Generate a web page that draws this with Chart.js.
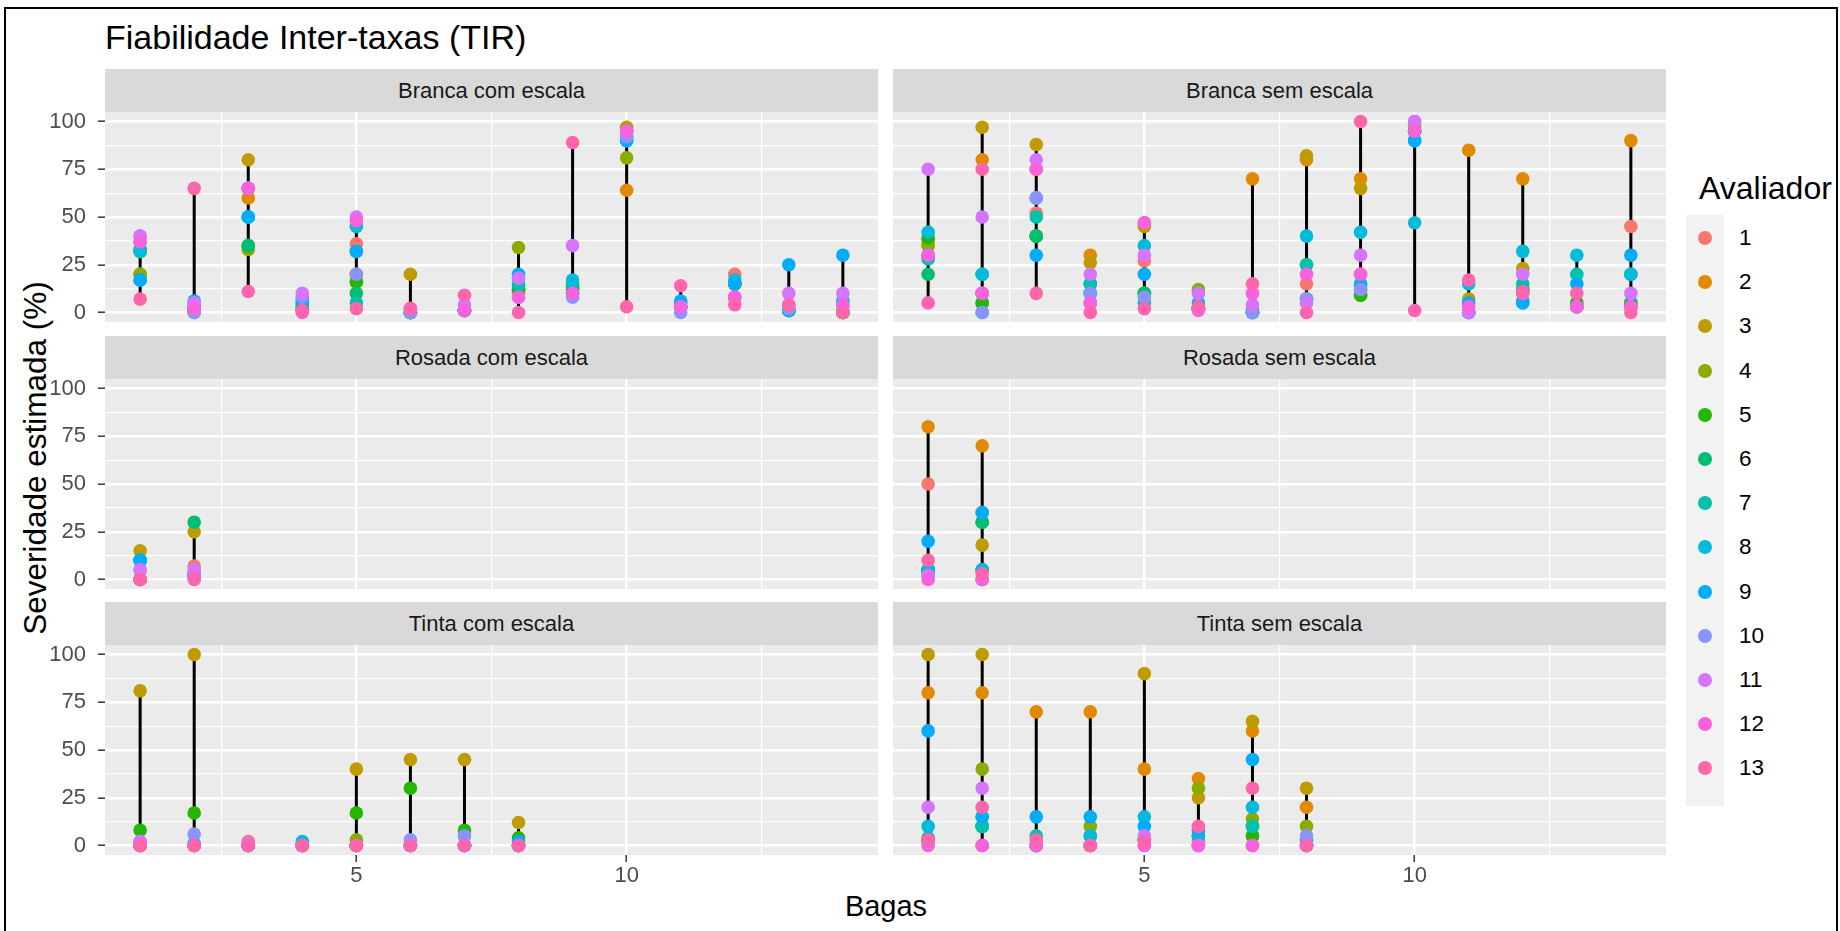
<!DOCTYPE html>
<html>
<head>
<meta charset="utf-8">
<script src="https://cdn.jsdelivr.net/npm/chart.js@4.4.1/dist/chart.umd.min.js"></script>
<style>
  body { margin: 0; background: #fff; width: 1840px; height: 931px; overflow: hidden; position: relative;
         font-family: "Liberation Sans", Arial, Helvetica, sans-serif; }
  canvas { position: absolute; }
  .strip { position: absolute; background: #D9D9D9; color: #1A1A1A; font-size: 22px; text-align: center; z-index: 2; }
  .txt { position: absolute; white-space: nowrap; color: #000; }
  #frame { position: absolute; left: 4px; top: 7px; width: 1830px; height: 940px; border: 2px solid #000; }
</style>
</head>
<body>
<div id="frame"></div>
<div class="txt" id="title" style="left:105px;top:18px;font-size:34px;">Fiabilidade Inter-taxas (TIR)</div>
<div class="txt" id="ylab" style="left:35px;top:458px;font-size:31.5px;transform:translate(-50%,-50%) rotate(-90deg);">Severidade estimada (%)</div>
<div class="txt" id="xlab" style="left:886px;top:906px;font-size:29px;transform:translate(-50%,-50%);">Bagas</div>
<div id="legend"></div>

<script>
// Bagas (x), avaliadores (series), and tick positions
const bagas = [1, 2, 3, 4, 5, 6, 7, 8, 9, 10, 11, 12, 13, 14];
const avaliadores = ['1', '2', '3', '4', '5', '6', '7', '8', '9', '10', '11', '12', '13'];
const cores = ['#F8766D', '#E18A00', '#BE9C00', '#8CAB00', '#24B700', '#00BE70', '#00C1AB',
               '#00BBDA', '#00ACFC', '#8B93FF', '#D575FE', '#F962DD', '#FF65AC'];
const xTicks = [5, 10];
const xMinor = [2.5, 7.5, 12.5];
const yTicks = [0, 25, 50, 75, 100];
const yMinor = [12.5, 37.5, 62.5, 87.5];

// one row per baga, one column per avaliador (1..13)
const brancaCom = [
  [33, 37, 20, 20, 17, 32, 32, 33, 17, 40, 40, 37, 7],
  [1, 1, 0, 2, 1, 2, 3, 5, 6, 0, 5, 2, 65],
  [65, 60, 80, 33, 35, 35, 50, 50, 50, 65, 65, 65, 11],
  [1, 2, 1, 3, 2, 4, 6, 7, 5, 8, 10, 0, 1],
  [36, 32, 20, 16, 16, 10, 5, 45, 32, 20, 50, 48, 2],
  [0, 0, 20, 0, 0, 0, 0, 0, 0, 0, 2, 2, 2],
  [1, 1, 1, 1, 1, 1, 1, 1, 1, 1, 4, 1, 9],
  [12, 10, 12, 34, 12, 14, 15, 18, 20, 8, 18, 8, 0],
  [12, 10, 12, 14, 13, 14, 15, 17, 10, 8, 35, 10, 89],
  [95, 64, 97, 81, 95, 95, 92, 90, 90, 92, 95, 95, 3],
  [3, 3, 3, 3, 3, 3, 3, 5, 6, 0, 3, 3, 14],
  [20, 15, 15, 15, 15, 15, 15, 17, 15, 8, 8, 8, 4],
  [1, 1, 1, 1, 1, 1, 1, 1, 25, 2, 10, 4, 4],
  [0, 0, 0, 0, 0, 0, 6, 6, 30, 3, 10, 4, 0]
];
const brancaSem = [
  [30, 35, 38, 35, 39, 20, 28, 42, 30, 30, 75, 30, 5],
  [10, 80, 97, 5, 5, 10, 20, 20, 0, 0, 50, 10, 75],
  [52, 75, 88, 40, 40, 40, 50, 60, 30, 60, 80, 75, 10],
  [5, 30, 26, 15, 10, 15, 15, 10, 5, 10, 20, 5, 0],
  [27, 47, 45, 10, 10, 10, 5, 35, 20, 8, 30, 47, 2],
  [2, 2, 2, 12, 2, 2, 2, 5, 2, 2, 10, 1, 3],
  [0, 70, 0, 0, 1, 0, 0, 0, 0, 0, 4, 10, 15],
  [15, 80, 82, 7, 7, 25, 25, 40, 7, 7, 5, 20, 0],
  [20, 70, 65, 9, 9, 12, 15, 42, 14, 12, 30, 20, 100],
  [95, 95, 98, 95, 95, 95, 90, 47, 90, 100, 100, 95, 1],
  [0, 85, 7, 0, 0, 0, 0, 15, 5, 0, 0, 3, 17],
  [12, 70, 23, 12, 6, 12, 15, 32, 5, 10, 20, 10, 11],
  [3, 3, 3, 3, 5, 3, 20, 30, 15, 3, 3, 3, 10],
  [45, 90, 5, 5, 3, 5, 20, 20, 30, 3, 10, 3, 0]
];
const rosadaCom = [
  [0, 0, 15, 0, 0, 0, 10, 10, 10, 5, 5, 0, 0],
  [7, 3, 25, 3, 3, 30, 3, 3, 1, 3, 5, 1, 0]
];
const rosadaSem = [
  [50, 80, 5, 5, 5, 5, 4, 5, 20, 2, 2, 0, 10],
  [35, 70, 18, 5, 30, 30, 5, 5, 35, 0, 0, 0, 3]
];
const tintaCom = [
  [0, 0, 81, 0, 8, 0, 0, 0, 0, 2, 2, 0, 0],
  [0, 0, 100, 0, 17, 0, 0, 0, 1, 6, 0, 0, 0],
  [2, 0, 0, 0, 0, 0, 0, 0, 0, 0, 1, 0, 0],
  [0, 0, 0, 0, 0, 0, 0, 2, 0, 0, 0, 0, 0],
  [0, 0, 40, 3, 17, 0, 0, 0, 0, 0, 0, 0, 0],
  [0, 0, 45, 0, 30, 0, 0, 0, 0, 3, 0, 0, 0],
  [0, 0, 45, 0, 8, 0, 0, 0, 0, 5, 0, 0, 0],
  [0, 0, 12, 0, 4, 0, 0, 0, 2, 0, 0, 0, 0]
];
const tintaSem = [
  [2, 80, 100, 3, 3, 3, 4, 10, 60, 2, 20, 0, 3],
  [0, 80, 100, 40, 10, 10, 10, 15, 15, 0, 30, 0, 20],
  [0, 70, 0, 0, 0, 0, 5, 0, 15, 0, 0, 0, 3],
  [0, 70, 0, 10, 0, 0, 5, 5, 15, 0, 0, 0, 0],
  [0, 40, 90, 3, 3, 3, 3, 15, 10, 3, 5, 0, 2],
  [2, 35, 25, 30, 0, 5, 5, 5, 8, 0, 0, 0, 10],
  [5, 60, 65, 14, 5, 10, 10, 20, 45, 0, 0, 0, 30],
  [0, 20, 30, 10, 0, 0, 0, 0, 3, 5, 0, 0, 0]
];

const paineis = [
  { nome: 'Branca com escala', dados: brancaCom, col: 0, row: 0 },
  { nome: 'Branca sem escala', dados: brancaSem, col: 1, row: 0 },
  { nome: 'Rosada com escala', dados: rosadaCom, col: 0, row: 1 },
  { nome: 'Rosada sem escala', dados: rosadaSem, col: 1, row: 1 },
  { nome: 'Tinta com escala', dados: tintaCom, col: 0, row: 2 },
  { nome: 'Tinta sem escala', dados: tintaSem, col: 1, row: 2 }
];

// layout (pixels)
const colX = [105, 893], panelW = 773;
const rowY = [112, 379, 645], panelH = 210;
const stripH = 43, PAD = 20, AXIS_H = 40;
const TICK_FONT = 22;

Chart.defaults.font.family = '"Liberation Sans", Arial, Helvetica, sans-serif';

const fundo = {
  id: 'fundo',
  beforeDraw(chart) {
    const a = chart.chartArea, ctx = chart.ctx;
    ctx.save();
    ctx.fillStyle = '#EBEBEB';
    ctx.fillRect(a.left, a.top, a.right - a.left, a.bottom - a.top);
    ctx.restore();
  }
};

paineis.forEach(p => {
  const isLeft = p.col === 0;
  const isBottom = p.row === 2;
  const yW = isLeft ? colX[0] : 0;

  // strip
  const s = document.createElement('div');
  s.className = 'strip';
  s.style.left = colX[p.col] + 'px';
  s.style.top = (rowY[p.row] - stripH) + 'px';
  s.style.width = panelW + 'px';
  s.style.height = stripH + 'px';
  s.style.lineHeight = stripH + 'px';
  s.textContent = p.nome;
  document.body.appendChild(s);

  const cv = document.createElement('canvas');
  cv.width = yW + panelW;
  cv.height = PAD + panelH + (isBottom ? AXIS_H : 0) + PAD;
  cv.style.left = (colX[p.col] - yW) + 'px';
  cv.style.top = (rowY[p.row] - PAD) + 'px';
  document.body.appendChild(cv);

  // black range line per baga (min to max)
  const linhas = [];
  p.dados.forEach((r, i) => {
    const v = r.filter(x => x != null);
    linhas.push({ x: bagas[i], y: Math.min(...v) }, { x: bagas[i], y: Math.max(...v) }, { x: bagas[i], y: null });
  });
  const datasets = [{
    data: linhas, showLine: true, spanGaps: false, borderColor: '#000', borderWidth: 3,
    pointRadius: 0, pointHoverRadius: 0, order: 100
  }];
  avaliadores.forEach((a, e) => {
    datasets.push({
      label: a,
      data: p.dados.map((r, i) => ({ x: bagas[i], y: r[e] })),
      backgroundColor: cores[e], borderWidth: 0,
      pointRadius: 6.8, pointHoverRadius: 6.8,
      order: 13 - e
    });
  });

  new Chart(cv, {
    type: 'scatter',
    data: { datasets },
    plugins: [fundo],
    options: {
      responsive: false, animation: false, devicePixelRatio: 1, events: [],
      layout: { autoPadding: false, padding: { top: PAD, bottom: PAD, left: 0, right: 0 } },
      plugins: { legend: { display: false }, tooltip: { enabled: false } },
      scales: {
        x: {
          type: 'linear', position: 'bottom', min: 0.35, max: 14.65,
          afterBuildTicks: sc => { sc.ticks = xTicks.map(v => ({ value: v })); },
          border: { display: false },
          grid: { color: '#FFFFFF', lineWidth: 2.4, drawTicks: isBottom, tickLength: 7, tickColor: '#333333', tickWidth: 1.5 },
          ticks: { display: isBottom, color: '#4D4D4D', font: { size: TICK_FONT }, padding: 1, maxRotation: 0 },
          afterFit: sc => { sc.height = isBottom ? AXIS_H : 0; sc.paddingLeft = 0; sc.paddingRight = 0; }
        },
        xm: {
          type: 'linear', position: 'bottom', min: 0.35, max: 14.65,
          afterBuildTicks: sc => { sc.ticks = xMinor.map(v => ({ value: v })); },
          border: { display: false },
          grid: { color: '#FFFFFF', lineWidth: 1.2, drawTicks: false },
          ticks: { display: false },
          afterFit: sc => { sc.height = 0; sc.paddingLeft = 0; sc.paddingRight = 0; }
        },
        y: {
          type: 'linear', position: 'left', min: -5, max: 105,
          afterBuildTicks: sc => { sc.ticks = yTicks.map(v => ({ value: v })); },
          border: { display: false },
          grid: { color: '#FFFFFF', lineWidth: 2.4, drawTicks: isLeft, tickLength: 7, tickColor: '#333333', tickWidth: 1.5 },
          ticks: { display: isLeft, color: '#4D4D4D', font: { size: TICK_FONT }, padding: 12 },
          afterFit: sc => { sc.width = yW; sc.paddingTop = 0; sc.paddingBottom = 0; }
        },
        ym: {
          type: 'linear', position: 'left', min: -5, max: 105,
          afterBuildTicks: sc => { sc.ticks = yMinor.map(v => ({ value: v })); },
          border: { display: false },
          grid: { color: '#FFFFFF', lineWidth: 1.2, drawTicks: false },
          ticks: { display: false },
          afterFit: sc => { sc.width = 0; sc.paddingTop = 0; sc.paddingBottom = 0; }
        }
      }
    }
  });
});

// legend
const leg = document.getElementById('legend');
let html = '<div class="txt" style="left:1699px;top:170px;font-size:32px;">Avaliador</div>';
html += '<div style="position:absolute;left:1686px;top:215px;width:38px;height:591px;background:#F2F2F2;"></div>';
avaliadores.forEach((a, i) => {
  const cy = 238 + i * 44.2;
  html += `<div style="position:absolute;left:${1705 - 7}px;top:${cy - 7}px;width:14px;height:14px;border-radius:50%;background:${cores[i]};"></div>`;
  html += `<div class="txt" style="left:1739px;top:${cy - 13}px;font-size:22.5px;line-height:26px;">${a}</div>`;
});
leg.innerHTML = html;
</script>
</body>
</html>
